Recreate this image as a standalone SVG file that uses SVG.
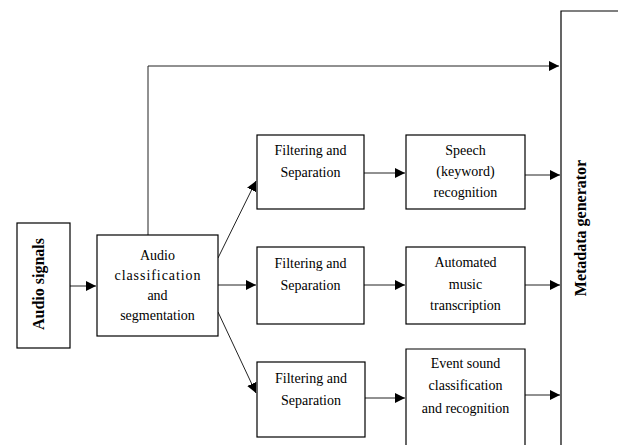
<svg xmlns="http://www.w3.org/2000/svg" width="618" height="445" viewBox="0 0 618 445">
<style>
.box{fill:#fff;stroke:#000;stroke-width:1.2}
.t{font-family:"Liberation Serif","Times New Roman",serif;font-size:14px;fill:#000;text-anchor:middle}
.tb{font-family:"Liberation Serif","Times New Roman",serif;font-size:16px;font-weight:bold;fill:#000;text-anchor:middle}
.c{fill:none;stroke:#222;stroke-width:1}
</style>
<defs>
<marker id="ah" markerUnits="userSpaceOnUse" markerWidth="12" markerHeight="10" refX="10" refY="5" orient="auto">
<path d="M0,0 L10,5 L0,10 Z" fill="#000"/>
</marker>
</defs>
<rect width="618" height="445" fill="#fff"/>
<g id="connectors">
<polyline class="c" points="148,235 148,66 559,66" marker-end="url(#ah)"/>
<line class="c" x1="70" y1="286" x2="96" y2="286" marker-end="url(#ah)"/>
<line class="c" x1="218" y1="258" x2="256" y2="181" marker-end="url(#ah)"/>
<line class="c" x1="218" y1="285" x2="256" y2="285" marker-end="url(#ah)"/>
<line class="c" x1="218" y1="312" x2="256" y2="393" marker-end="url(#ah)"/>
<line class="c" x1="364" y1="173" x2="405" y2="173" marker-end="url(#ah)"/>
<line class="c" x1="364" y1="285" x2="405" y2="285" marker-end="url(#ah)"/>
<line class="c" x1="365" y1="398" x2="405" y2="398" marker-end="url(#ah)"/>
<line class="c" x1="525" y1="175" x2="560" y2="175" marker-end="url(#ah)"/>
<line class="c" x1="525" y1="285" x2="560" y2="285" marker-end="url(#ah)"/>
<line class="c" x1="525" y1="395" x2="560" y2="395" marker-end="url(#ah)"/>
</g>
<g id="audio-signals">
<rect class="box" x="17" y="223" width="53" height="125"/>
<text class="tb" transform="translate(44,284) rotate(-90)">Audio signals</text>
</g>
<g id="audio-classification">
<rect class="box" x="97" y="235" width="121" height="101"/>
<text class="t" x="157.5" y="260">Audio</text>
<text class="t" x="157.5" y="280" textLength="86" lengthAdjust="spacing">classification</text>
<text class="t" x="157.5" y="300">and</text>
<text class="t" x="157.5" y="320">segmentation</text>
</g>
<g id="filter1">
<rect class="box" x="257" y="135" width="107" height="74"/>
<text class="t" x="310.5" y="155">Filtering and</text>
<text class="t" x="310.5" y="177">Separation</text>
</g>
<g id="filter2">
<rect class="box" x="257" y="247" width="107" height="77"/>
<text class="t" x="310.5" y="268">Filtering and</text>
<text class="t" x="310.5" y="290">Separation</text>
</g>
<g id="filter3">
<rect class="box" x="257" y="362" width="108" height="75"/>
<text class="t" x="311" y="383">Filtering and</text>
<text class="t" x="311" y="405">Separation</text>
</g>
<g id="speech">
<rect class="box" x="406" y="135" width="119" height="74"/>
<text class="t" x="465.5" y="155">Speech</text>
<text class="t" x="465.5" y="176">(keyword)</text>
<text class="t" x="465.5" y="197">recognition</text>
</g>
<g id="music">
<rect class="box" x="406" y="247" width="119" height="77"/>
<text class="t" x="465.5" y="267">Automated</text>
<text class="t" x="465.5" y="289">music</text>
<text class="t" x="465.5" y="310">transcription</text>
</g>
<g id="event">
<path class="box" d="M406,446 V349 H525 V446"/>
<text class="t" x="465.5" y="368">Event sound</text>
<text class="t" x="465.5" y="390">classification</text>
<text class="t" x="465.5" y="413">and recognition</text>
</g>
<g id="metadata">
<path class="box" d="M619,11 H561 V446"/>
<text class="tb" transform="translate(586,228) rotate(-90)">Metadata generator</text>
</g>
</svg>
